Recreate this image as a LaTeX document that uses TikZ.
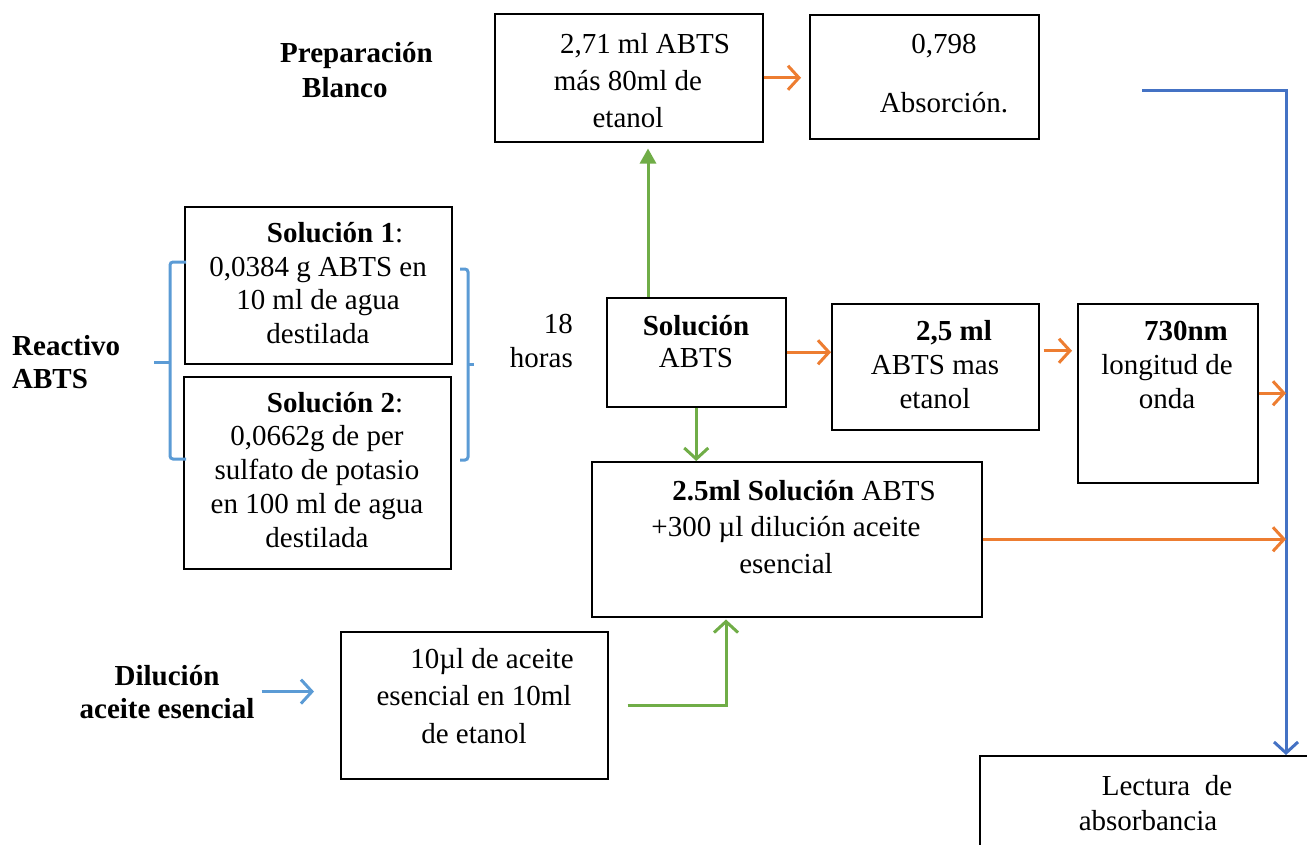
\documentclass[tikz,border=0pt]{standalone}
\usepackage{fontspec}
\setmainfont{Liberation Serif}
\usetikzlibrary{arrows.meta, positioning, calc}
\definecolor{naranja}{HTML}{ED7D31}
\definecolor{verde}{HTML}{70AD47}
\definecolor{azulclaro}{HTML}{5B9BD5}
\definecolor{azul}{HTML}{4472C4}
\tikzset{
  caja/.style={draw, line width=1.5pt, inner sep=0pt, anchor=north west},
  texto/.style={font=\fontsize{29}{34}\selectfont, align=center, inner sep=0pt, anchor=base},
  etiqueta/.style={texto, font=\fontsize{29}{33}\selectfont\bfseries},
  flechanar/.style={draw=naranja, line width=3pt, -{Straight Barb[length=11pt, width=24pt]}},
  flechaver/.style={draw=verde, line width=3pt, -{Straight Barb[length=11pt, width=24pt]}},
  flechaazul/.style={draw=azulclaro, line width=3pt, -{Straight Barb[length=11pt, width=24pt]}},
  llave/.style={draw=azulclaro, line width=3pt, rounded corners=3pt},
}
\begin{document}
\begin{tikzpicture}[x=1pt, y=-1pt]
  \clip (0,0) rectangle (1307,844);

  % cajas
  \node[caja, minimum width=268pt, minimum height=128pt] (blanco) at (494,13) {};
  \node[caja, minimum width=229pt, minimum height=124pt] (absor) at (809,14) {};
  \node[caja, minimum width=267pt, minimum height=157pt] (sol1) at (184,206) {};
  \node[caja, minimum width=267pt, minimum height=192pt] (sol2) at (183,376) {};
  \node[caja, minimum width=179pt, minimum height=109pt] (solabts) at (606,297) {};
  \node[caja, minimum width=207pt, minimum height=126pt] (dosml) at (831,303) {};
  \node[caja, minimum width=180pt, minimum height=179pt] (onda) at (1077,303) {};
  \node[caja, minimum width=390pt, minimum height=155pt] (mezcla) at (591,461) {};
  \node[caja, minimum width=267pt, minimum height=147pt] (dilu) at (340,631) {};
  \node[caja, minimum width=360pt, minimum height=140pt] (lectura) at (979,755) {};

  % textos de las cajas (base = ultima linea)
  \node[texto, font=\fontsize{29}{37}\selectfont] (blancotxt) at (628,127)
    {\hspace*{34pt}2,71 ml ABTS\\más 80ml de\\etanol};
  \node[texto] (absortxt) at (944,112) {0,798\\[25pt]Absorción.};
  \node[texto, font=\fontsize{29}{33.5}\selectfont] (sol1txt) at (318,343)
    {\hspace*{34pt}\textbf{Solución 1}:\\0,0384 g ABTS en\\10 ml de agua\\destilada};
  \node[texto, font=\fontsize{29}{33.7}\selectfont] (sol2txt) at (317,547)
    {\hspace*{36pt}\textbf{Solución 2}:\\0,0662g de per\\sulfato de potasio\\en 100 ml de agua\\destilada};
  \node[texto, font=\fontsize{29}{32}\selectfont] (solabtstxt) at (696,367) {\textbf{Solución}\\ABTS};
  \node[texto] (dosmltxt) at (935,408) {\hspace*{38pt}\textbf{2,5 ml}\\ABTS mas\\etanol};
  \node[texto] (ondatxt) at (1167,408) {\hspace*{38pt}\textbf{730nm}\\longitud de\\onda};
  \node[texto, font=\fontsize{29}{36.5}\selectfont] (mezclatxt) at (786,573)
    {\hspace*{36pt}\textbf{2.5ml Solución} ABTS\\+300 µl dilución aceite\\esencial};
  \node[texto, font=\fontsize{29}{37.5}\selectfont] (dilutxt) at (474,743)
    {\hspace*{36pt}10µl de aceite\\esencial en 10ml\\de etanol};
  \node[texto, font=\fontsize{29}{35}\selectfont] (lecturatxt) at (1148,830)
    {\hspace*{38pt}Lectura\ \ de\\absorbancia};

  % etiquetas sueltas
  \node[etiqueta, align=left, anchor=base west, font=\fontsize{29}{35}\selectfont\bfseries] (prep) at (280,97)
    {Preparación\\\hspace*{22pt}Blanco};
  \node[etiqueta, align=left, anchor=base west] (reactivo) at (12,388) {Reactivo\\ABTS};
  \node[texto, align=right, anchor=base east] (horas) at (573,367) {18\\horas};
  \node[etiqueta] (dilulbl) at (167,718) {Dilución\\aceite esencial};

  % llaves
  \draw[llave] (186,262) -- (170,262) -- (170,459) -- (186,459);
  \draw[llave] (170,362) -- (154,362);
  \draw[llave] (460,269) -- (468,269) -- (468,460) -- (460,460);
  \draw[llave] (468,364) -- (474,364);

  % flechas naranjas
  \draw[flechanar, shorten >=8pt] (blanco.east) -- (blanco.east -| absor.west);
  \draw[flechanar] (solabts.east) -- (solabts.east -| dosml.west);
  \draw[flechanar, shorten <=4pt, shorten >=5pt] ([yshift=16pt]dosml.east) -- ([yshift=16pt]dosml.east -| onda.west);

  % linea azul de lectura
  \coordinate (inicio) at (1142,90);
  \coordinate (bajada) at (1286,90);
  \draw[draw=azul, line width=3pt, -{Straight Barb[length=11pt, width=24pt]}]
    (inicio) -- (bajada) -- (bajada |- lectura.north);
  \draw[flechanar] (onda.east) -- (onda.east -| bajada);
  \draw[flechanar] (mezcla.east) -- (mezcla.east -| bajada);

  % flechas verdes
  \draw[flechaver, -{Triangle[length=15pt, width=16pt]}, shorten >=6pt]
    ([xshift=42pt]solabts.north west) -- ([xshift=42pt]solabts.north west |- blanco.south);
  \draw[flechaver] (solabts.south) -- (solabts.south |- mezcla.north);
  \draw[flechaver, shorten <=19pt, shorten >=2pt] (dilu.east) -| ([xshift=135pt]mezcla.south west);

  % flecha azul de dilucion
  \draw[flechaazul, shorten <=7pt, shorten >=26pt] (dilulbl.east) -- (dilulbl.east -| dilu.west);
\end{tikzpicture}
\end{document}
